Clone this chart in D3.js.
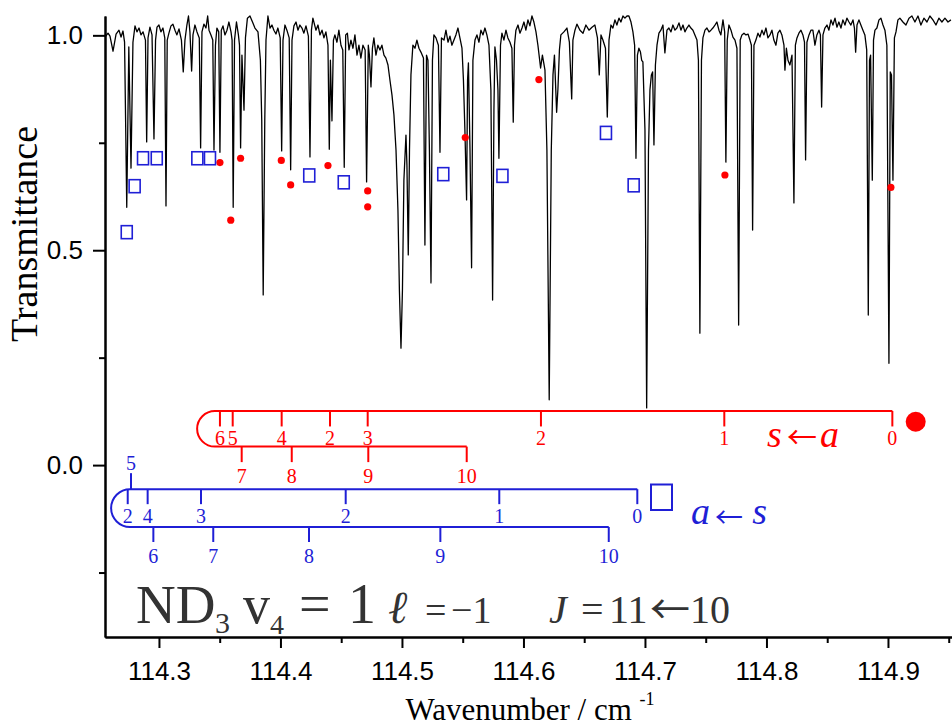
<!DOCTYPE html>
<html><head><meta charset="utf-8">
<script src="https://cdn.jsdelivr.net/npm/d3@7"></script>
<style>body{margin:0;background:#fff}svg{display:block}</style>
</head><body><svg id="chart" width="952" height="726"></svg>
<script>
// ---------------- DATA ----------------
const wavenumber = [
114.2556,114.2581,114.2597,114.2622,114.2647,114.2671,114.2688,114.2704,114.2717,114.2735,
114.2752,114.2770,114.2786,114.2803,114.2819,114.2836,114.2852,114.2869,114.2889,114.2899,
114.2910,114.2926,114.2943,114.2959,114.2972,114.2984,114.3000,114.3016,114.3033,114.3048,
114.3058,114.3068,114.3082,114.3099,114.3115,114.3132,114.3148,114.3165,114.3185,114.3200,
114.3214,114.3230,114.3243,114.3255,114.3269,114.3280,114.3296,114.3313,114.3332,114.3343,
114.3354,114.3370,114.3387,114.3401,114.3412,114.3428,114.3443,114.3453,114.3465,114.3477,
114.3492,114.3502,114.3513,114.3527,114.3543,114.3560,114.3576,114.3593,114.3602,114.3611,
114.3622,114.3638,114.3654,114.3663,114.3672,114.3683,114.3700,114.3712,114.3728,114.3749,
114.3770,114.3790,114.3815,114.3835,114.3846,114.3858,114.3871,114.3881,114.3897,114.3914,
114.3930,114.3946,114.3963,114.3979,114.3998,114.4010,114.4021,114.4037,114.4053,114.4072,
114.4084,114.4095,114.4111,114.4128,114.4144,114.4160,114.4177,114.4193,114.4210,114.4230,
114.4243,114.4255,114.4267,114.4292,114.4309,114.4325,114.4342,114.4358,114.4374,114.4391,
114.4402,114.4411,114.4424,114.4436,114.4448,114.4465,114.4481,114.4498,114.4513,114.4525,
114.4537,114.4551,114.4564,114.4580,114.4597,114.4613,114.4630,114.4646,114.4662,114.4679,
114.4697,114.4709,114.4723,114.4732,114.4745,114.4757,114.4769,114.4786,114.4802,114.4819,
114.4835,114.4852,114.4868,114.4885,114.4901,114.4918,114.4934,114.4951,114.4967,114.4979,
114.4992,114.5004,114.5016,114.5033,114.5041,114.5052,114.5062,114.5074,114.5090,114.5107,
114.5123,114.5140,114.5156,114.5177,114.5189,114.5202,114.5214,114.5226,114.5239,114.5251,
114.5263,114.5280,114.5300,114.5313,114.5325,114.5346,114.5362,114.5379,114.5395,114.5411,
114.5428,114.5444,114.5461,114.5477,114.5494,114.5506,114.5518,114.5532,114.5540,114.5547,
114.5560,114.5573,114.5584,114.5601,114.5617,114.5634,114.5650,114.5667,114.5683,114.5699,
114.5716,114.5732,114.5746,114.5757,114.5765,114.5778,114.5790,114.5798,114.5811,114.5823,
114.5839,114.5856,114.5872,114.5889,114.5905,114.5916,114.5926,114.5938,114.5955,114.5971,
114.5988,114.6004,114.6020,114.6037,114.6053,114.6070,114.6086,114.6103,114.6119,114.6141,
114.6156,114.6177,114.6193,114.6212,114.6229,114.6243,114.6255,114.6273,114.6284,114.6296,
114.6308,114.6333,114.6358,114.6378,114.6397,114.6407,114.6424,114.6440,114.6465,114.6490,
114.6514,114.6539,114.6564,114.6588,114.6609,114.6624,114.6638,114.6654,114.6675,114.6690,
114.6704,114.6720,114.6736,114.6753,114.6769,114.6786,114.6802,114.6819,114.6835,114.6852,
114.6868,114.6885,114.6901,114.6915,114.6926,114.6938,114.6950,114.6963,114.6973,114.6983,
114.7000,114.7014,114.7029,114.7041,114.7053,114.7063,114.7074,114.7086,114.7099,114.7115,
114.7131,114.7148,114.7164,114.7181,114.7197,114.7214,114.7230,114.7247,114.7263,114.7280,
114.7296,114.7313,114.7329,114.7345,114.7362,114.7378,114.7395,114.7411,114.7428,114.7440,
114.7452,114.7465,114.7477,114.7494,114.7510,114.7527,114.7543,114.7559,114.7576,114.7592,
114.7609,114.7625,114.7642,114.7656,114.7666,114.7677,114.7691,114.7708,114.7724,114.7741,
114.7757,114.7771,114.7784,114.7798,114.7815,114.7831,114.7848,114.7864,114.7876,114.7886,
114.7897,114.7913,114.7930,114.7946,114.7963,114.7979,114.7996,114.8012,114.8029,114.8045,
114.8061,114.8078,114.8094,114.8111,114.8127,114.8144,114.8152,114.8164,114.8177,114.8193,
114.8210,114.8226,114.8238,114.8251,114.8267,114.8284,114.8300,114.8313,114.8322,114.8333,
114.8350,114.8366,114.8382,114.8399,114.8415,114.8432,114.8444,114.8454,114.8465,114.8481,
114.8498,114.8514,114.8531,114.8547,114.8564,114.8580,114.8596,114.8613,114.8629,114.8646,
114.8662,114.8679,114.8695,114.8712,114.8724,114.8734,114.8745,114.8761,114.8777,114.8794,
114.8810,114.8825,114.8838,114.8848,114.8857,114.8871,114.8881,114.8893,114.8909,114.8926,
114.8942,114.8959,114.8975,114.8991,114.9008,114.9019,114.9029,114.9041,114.9053,114.9066,
114.9082,114.9098,114.9123,114.9148,114.9173,114.9197,114.9222,114.9247,114.9271,114.9296,
114.9321,114.9345,114.9370,114.9395,114.9419,114.9444,114.9469,114.9494,114.9518
];
const transmittance = [
0.996,1.005,0.998,0.963,1.003,1.012,0.996,1.010,0.984,0.600,
0.973,0.691,0.984,1.022,1.008,1.017,1.001,1.008,0.989,0.752,
0.994,1.019,1.001,0.759,0.989,1.019,1.024,1.008,1.017,0.994,
0.603,0.989,1.005,1.022,1.026,1.012,1.001,1.015,0.989,0.915,
0.989,1.024,1.045,1.008,0.917,1.001,1.024,1.008,0.994,0.738,
1.008,1.026,1.017,1.045,1.012,1.001,0.989,0.733,0.977,1.017,
1.008,0.728,1.012,1.022,1.001,1.012,1.031,1.008,0.989,0.600,
0.989,1.031,1.001,0.977,0.738,0.954,0.826,0.994,1.040,1.045,
1.031,1.017,1.008,0.942,0.803,0.396,0.803,0.989,1.045,1.017,
1.024,1.012,1.003,1.017,0.994,0.731,0.989,1.024,1.012,0.994,
0.687,0.989,1.022,1.031,1.012,1.024,1.017,1.005,1.022,0.998,
0.717,1.012,1.040,1.012,1.024,1.001,1.012,0.994,1.008,0.977,
0.735,0.942,0.801,0.989,1.001,0.984,1.012,0.977,0.966,0.693,
1.001,1.005,0.966,0.989,0.970,1.001,0.954,0.977,0.947,0.977,
0.966,0.659,0.977,0.954,0.880,0.970,0.994,0.954,0.977,0.966,
0.977,0.954,0.947,0.931,0.896,0.861,0.815,0.733,0.593,0.407,
0.272,0.407,0.663,0.768,0.698,0.489,0.733,0.908,0.977,0.970,
0.989,0.970,0.961,0.947,0.512,0.954,0.942,0.733,0.424,0.942,
1.001,0.994,0.977,0.728,0.994,0.989,1.012,0.984,0.998,0.977,
0.989,1.001,1.017,0.994,0.970,0.896,0.780,0.617,0.896,0.936,
0.733,0.459,0.942,0.989,1.001,0.984,1.012,1.001,1.017,1.001,
0.977,0.873,0.384,0.826,0.973,0.942,0.873,0.714,0.977,1.005,
0.989,1.012,0.994,0.984,0.970,0.798,0.977,1.012,1.024,1.005,
1.017,1.031,1.012,1.036,1.022,1.045,1.031,1.008,0.977,0.924,
0.954,0.919,0.733,0.152,0.733,0.908,0.954,0.821,0.877,0.966,
1.001,1.008,1.017,0.984,0.852,0.989,1.012,1.026,1.012,1.005,
1.024,1.012,1.019,1.024,0.994,0.908,1.001,0.989,0.970,0.810,
0.989,1.024,1.017,1.036,1.024,1.040,1.031,1.045,1.040,1.045,
1.045,1.031,1.008,0.977,0.714,0.954,0.970,0.961,0.942,0.938,
0.780,0.133,0.733,0.873,0.908,0.915,0.745,0.931,0.977,1.005,
1.012,1.024,0.959,1.012,1.017,1.008,1.024,1.012,1.017,1.029,
1.012,1.024,1.008,1.017,1.024,1.017,1.012,1.001,0.989,0.942,
0.307,0.942,0.994,1.012,1.017,1.008,1.012,1.017,1.024,1.031,
1.012,1.001,1.036,1.008,0.705,0.989,1.024,1.012,0.996,0.989,
0.970,0.326,0.989,1.001,1.005,1.001,1.003,0.989,0.977,0.547,
0.977,0.989,1.005,0.996,1.012,1.001,1.017,0.994,1.001,1.012,
0.989,0.977,1.005,1.012,1.001,0.977,0.919,0.970,0.942,0.931,
0.954,0.610,0.977,0.994,1.005,1.012,1.001,0.984,0.710,0.984,
1.001,1.012,1.012,0.977,1.001,1.012,1.001,0.833,1.001,1.017,
1.024,1.012,1.036,1.024,1.040,1.019,1.031,1.017,1.036,1.024,
1.040,1.031,1.024,1.036,1.017,0.961,1.024,1.036,1.024,1.012,
1.001,0.966,0.349,0.942,0.954,0.663,0.989,1.012,1.017,1.036,
1.040,1.024,1.012,0.977,0.237,0.915,0.908,0.663,0.994,1.008,
1.036,1.040,1.031,1.024,1.040,1.045,1.031,1.045,1.024,1.040,
1.031,1.045,1.036,1.024,1.040,1.031,1.040,1.031,1.036
];

// assigned s<-a transitions (red dots)
const saWn = [114.3502,114.3591,114.3672,114.4007,114.4084,114.4391,114.4718,114.4718,114.5521,114.6127,114.7658,114.9024];
const saT  = [0.704,0.570,0.714,0.709,0.652,0.697,0.638,0.601,0.762,0.897,0.675,0.646];
// assigned a<-s transitions (blue squares)
const asWn = [114.2735,114.2800,114.2869,114.2982,114.3316,114.3420,114.4237,114.4521,114.5340,114.5827,114.6679,114.6907];
const asT  = [0.542,0.649,0.714,0.714,0.714,0.714,0.674,0.658,0.677,0.673,0.773,0.651];

// K-structure ladders (positions in cm-1, labels = K)
const saUpperWn = [114.3502,114.3607,114.4010,114.4408,114.4718,114.6144,114.7653,114.9036];
const saUpperK  = ["6","5","4","2","3","2","1","0"];
const saLowerWn = [114.3681,114.4093,114.4723,114.5533];
const saLowerK  = ["7","8","9","10"];
const asUpperWn = [114.2743,114.2907,114.3346,114.4537,114.5801,114.6937];
const asUpperK  = ["2","4","3","2","1","0"];
const asRaisedWn = [114.2770];
const asRaisedK  = ["5"];
const asLowerWn = [114.2954,114.3447,114.4235,114.5316,114.6702];
const asLowerK  = ["6","7","8","9","10"];

const xMajorTicks = [114.3,114.4,114.5,114.6,114.7,114.8,114.9];
const xMinorTicks = [114.35,114.45,114.55,114.65,114.75,114.85,114.95];
const yMajorTicks = [0.0,0.5,1.0];
const yMinorTicks = [-0.25,0.25,0.75];

// ---------------- DRAWING ----------------
const RED = "#ff0000", BLUE = "#1f1fd6";
const SERIF = "'Liberation Serif','Times New Roman',serif";
const SANS = "'Liberation Sans',Arial,sans-serif";
const ARROW = "'Noto Sans CJK SC','Noto Sans CJK JP',sans-serif";
const svg = d3.select("#chart");
const x = d3.scaleLinear().domain([114.2556, 114.9527]).range([105, 952]);
const y = d3.scaleLinear().domain([-0.4, 1.045]).range([637, 16]);

// axes
function styleAxis(g){
  g.selectAll("path,line").attr("stroke","#000").attr("stroke-width",2);
  g.selectAll("text").attr("font-family",SANS).attr("font-size",26).attr("fill","#000");
}
svg.append("g").attr("transform","translate(0,637)")
  .call(d3.axisBottom(x).tickValues(xMinorTicks).tickSize(6).tickFormat("").tickSizeOuter(0)).call(styleAxis);
svg.append("g").attr("transform","translate(0,637)")
  .call(d3.axisBottom(x).tickValues(xMajorTicks).tickSize(11).tickPadding(14).tickFormat(d3.format(".1f")).tickSizeOuter(0)).call(styleAxis);
svg.append("g").attr("transform","translate(105,0)")
  .call(d3.axisLeft(y).tickValues(yMinorTicks).tickSize(6).tickFormat("").tickSizeOuter(0)).call(styleAxis);
svg.append("g").attr("transform","translate(105,0)")
  .call(d3.axisLeft(y).tickValues(yMajorTicks).tickSize(12).tickPadding(10).tickFormat(d3.format(".1f")).tickSizeOuter(0)).call(styleAxis);

// axis titles
svg.append("text").attr("transform","translate(37,234) rotate(-90)")
  .attr("text-anchor","middle").attr("font-family",SERIF).attr("font-size",38).text("Transmittance");
const xt = svg.append("text").attr("x",530).attr("y",720).attr("text-anchor","middle")
  .attr("font-family",SERIF).attr("font-size",31);
xt.append("tspan").text("Wavenumber / cm ");
xt.append("tspan").attr("font-size",18).attr("dy",-15).text("-1");

// spectrum
const spectrum = d3.zip(wavenumber, transmittance);
svg.append("path").datum(spectrum)
  .attr("fill","none").attr("stroke","#000").attr("stroke-width",1.3).attr("stroke-linejoin","round")
  .attr("d", d3.line().x(d=>x(d[0])).y(d=>y(d[1])));

// markers
svg.append("g").selectAll("circle").data(d3.zip(saWn,saT)).join("circle")
  .attr("cx",d=>x(d[0])).attr("cy",d=>y(d[1])).attr("r",3.6).attr("fill",RED);
svg.append("g").selectAll("rect").data(d3.zip(asWn,asT)).join("rect")
  .attr("x",d=>x(d[0])-5.5).attr("y",d=>y(d[1])-6.5).attr("width",11).attr("height",13)
  .attr("fill","none").attr("stroke",BLUE).attr("stroke-width",1.6);

// ladders
function ladder(color, topLevel, botLevel, bendWn, upper, upperK, lower, lowerK, tick, raised, raisedK){
  const g = svg.append("g").attr("stroke",color).attr("fill","none").attr("stroke-width",2);
  const yt = y(topLevel), yb = y(botLevel), r = (yb-yt)/2, cx = x(bendWn);
  g.append("path").attr("d",
    `M${x(d3.max(upper))},${yt}H${cx}A${r},${r} 0 0 0 ${cx},${yb}H${x(d3.max(lower))}`);
  const tg = svg.append("g").attr("fill",color).attr("font-family",SERIF).attr("font-size",20).attr("text-anchor","middle");
  upper.forEach((w,i)=>{
    g.append("line").attr("x1",x(w)).attr("x2",x(w)).attr("y1",yt).attr("y2",yt+tick);
    tg.append("text").attr("x",x(w)).attr("y",yt+34).text(upperK[i]);
  });
  lower.forEach((w,i)=>{
    g.append("line").attr("x1",x(w)).attr("x2",x(w)).attr("y1",yb).attr("y2",yb+tick);
    tg.append("text").attr("x",x(w)).attr("y",yb+36).text(lowerK[i]);
  });
  (raised||[]).forEach((w,i)=>{
    g.append("line").attr("x1",x(w)).attr("x2",x(w)).attr("y1",yt).attr("y2",yt-16);
    tg.append("text").attr("x",x(w)).attr("y",yt-19).text(raisedK[i]);
  });
}
ladder(RED, 0.126, 0.043, 114.3461, saUpperWn, saUpperK, saLowerWn, saLowerK, 15.5);
ladder(BLUE, -0.056, -0.144, 114.2762, asUpperWn, asUpperK, asLowerWn, asLowerK, 15, asRaisedWn, asRaisedK);

// legend symbols + labels
svg.append("circle").attr("cx",915.7).attr("cy",421.7).attr("r",10).attr("fill",RED);
svg.append("rect").attr("x",651).attr("y",484.5).attr("width",21).attr("height",25.5)
  .attr("fill","none").attr("stroke",BLUE).attr("stroke-width",2);
function transLabel(color, xa, xArrow, xb, base, arrowDrop, arrowSize, a, b){
  const g = svg.append("g").attr("fill",color).attr("font-family",SERIF);
  g.append("text").attr("x",xa).attr("y",base).attr("font-size",38).attr("font-style","italic").text(a);
  g.append("text").attr("x",xArrow).attr("y",base+arrowDrop).attr("font-size",arrowSize)
    .attr("font-family",ARROW).attr("text-anchor","middle").text("\u2190");
  g.append("text").attr("x",xb).attr("y",base).attr("font-size",38).attr("font-style","italic").attr("text-anchor","end").text(b);
}
transLabel(RED, 767, 802, 839, 446.5, 1, 30, "s", "a");
transLabel(BLUE, 691, 729, 767, 523.5, 4, 28, "a", "s");

// title
const TC = "#333";
function tt(xp, yp, size, str, italic, anchor, fam){
  svg.append("text").attr("x",xp).attr("y",yp).attr("font-family",fam||SERIF).attr("font-size",size)
    .attr("fill",TC).attr("font-style",italic?"italic":"normal").attr("text-anchor",anchor||"start").text(str);
}
tt(136, 623, 55, "ND");
tt(215, 633, 30, "3");
tt(243, 623, 54, "v");
tt(270, 634, 28, "4");
tt(299, 623, 56, "=");
tt(348, 623, 56, "1");
tt(388, 623, 46, "\u2113", true);
tt(425, 623, 38, "=");
tt(451, 623, 38, "\u22121");
tt(549, 623, 40, "J", true);
tt(581, 623, 40, "=");
tt(609, 623, 40, "11");
tt(670, 624, 40, "\u2190", false, "middle", ARROW);
tt(690, 623, 40, "10");
</script></body></html>
